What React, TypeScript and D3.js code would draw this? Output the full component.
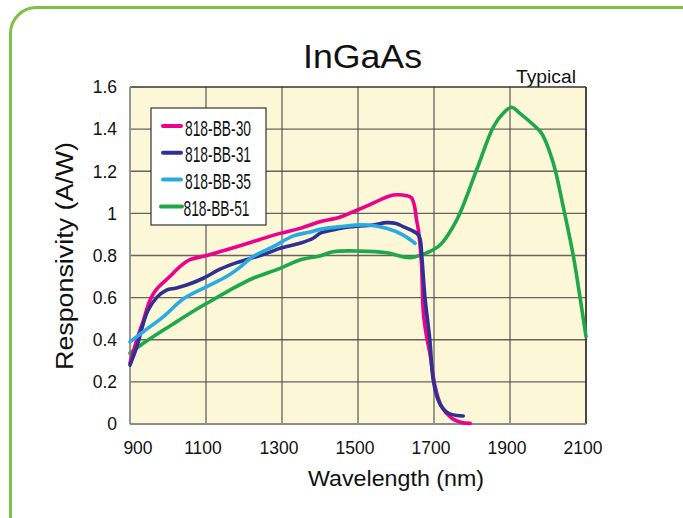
import React from "react";
import * as d3 from "d3";

const seriesNames = ["818-BB-30", "818-BB-31", "818-BB-35", "818-BB-51"];
const seriesColors = ["#ec008c", "#2e3192", "#29abe2", "#1fa84a"];

const bb30: [number, number][] = [
  [900, 0.29], [918, 0.4], [935, 0.49], [953, 0.59], [970, 0.64], [1005, 0.7], [1030, 0.745],
  [1058, 0.78], [1102, 0.8], [1140, 0.82], [1181, 0.842], [1240, 0.875], [1295, 0.905],
  [1350, 0.93], [1400, 0.96], [1450, 0.98], [1488, 1.008], [1530, 1.04], [1558, 1.064],
  [1593, 1.087], [1628, 1.084], [1640, 1.075], [1648, 1.04], [1654, 0.97], [1659, 0.92],
  [1667, 0.763], [1672, 0.53], [1680, 0.42], [1689, 0.337], [1703, 0.177], [1720, 0.082],
  [1747, 0.027], [1770, 0.008], [1795, 0.003],
];
const bb31: [number, number][] = [
  [900, 0.28], [918, 0.367], [935, 0.478], [948, 0.541], [970, 0.6], [996, 0.636], [1020, 0.645],
  [1049, 0.66], [1093, 0.692], [1137, 0.735], [1181, 0.766], [1224, 0.79], [1260, 0.81],
  [1295, 0.834], [1347, 0.858], [1382, 0.882], [1400, 0.905], [1430, 0.92], [1470, 0.934],
  [1540, 0.945], [1575, 0.956], [1600, 0.952], [1619, 0.937], [1640, 0.92], [1655, 0.905],
  [1663, 0.882], [1668, 0.795], [1676, 0.604], [1689, 0.4], [1698, 0.209], [1711, 0.114],
  [1725, 0.07], [1738, 0.051], [1760, 0.04], [1777, 0.038],
];
const bb35: [number, number][] = [
  [900, 0.39], [935, 0.438], [988, 0.51], [1040, 0.593], [1102, 0.652], [1154, 0.7], [1190, 0.745],
  [1224, 0.795], [1277, 0.842], [1330, 0.893], [1370, 0.91], [1400, 0.924], [1453, 0.937],
  [1523, 0.945], [1575, 0.929], [1619, 0.897], [1650, 0.858],
];
const bb51: [number, number][] = [
  [900, 0.336], [935, 0.383], [988, 0.446], [1023, 0.486], [1058, 0.526], [1102, 0.573],
  [1163, 0.636], [1224, 0.692], [1295, 0.739], [1347, 0.779], [1400, 0.798], [1435, 0.818],
  [1505, 0.821], [1575, 0.813], [1637, 0.79], [1681, 0.813], [1716, 0.85], [1760, 0.969],
  [1812, 1.206], [1856, 1.41], [1882, 1.475], [1904, 1.504], [1926, 1.475], [1957, 1.428],
  [1983, 1.38], [2014, 1.238], [2040, 1.032], [2067, 0.794], [2084, 0.604], [2100, 0.415],
];
const seriesData = [bb30, bb31, bb35, bb51];
const drawOrder = [3, 0, 1, 2];

const xTicks = [900, 1100, 1300, 1500, 1700, 1900, 2100];
const yTicks = [0, 0.2, 0.4, 0.6, 0.8, 1, 1.2, 1.4, 1.6];

const FONT = "'Liberation Sans', Arial, Helvetica, sans-serif";

export default function App() {
  const left = 130, right = 586, top = 87, bottom = 424;
  const x = d3.scaleLinear().domain([900, 2100]).range([left, right]);
  const y = d3.scaleLinear().domain([0, 1.6]).range([bottom, top]);
  const line = d3
    .line<[number, number]>()
    .x((d) => x(d[0]))
    .y((d) => y(d[1]))
    .curve(d3.curveCatmullRom.alpha(0.5));

  const legX = 151, legY = 108, legW = 115, legH = 117;

  return (
    <svg
      width={683}
      height={518}
      style={{ position: "absolute", left: 0, top: 0, background: "#fff" }}
      fontFamily={FONT}
    >
      <rect x={10.5} y={7.5} width={720} height={560} rx={26} fill="none" stroke="#7dc242" strokeWidth={3} />
      <text x={362.5} y={68} textAnchor="middle" fontSize={33} textLength={119} lengthAdjust="spacingAndGlyphs" fill="#111">
        InGaAs
      </text>
      <text x={546} y={82.5} textAnchor="middle" fontSize={18} textLength={60} lengthAdjust="spacingAndGlyphs" fill="#111">
        Typical
      </text>
      <rect x={left} y={top} width={right - left} height={bottom - top} fill="#fcf8d7" />
      {yTicks.slice(1, -1).map((v) => (
        <line key={"gy" + v} x1={left} x2={right} y1={y(v)} y2={y(v)} stroke="#4a4a4a" strokeOpacity={0.85} strokeWidth={1.3} />
      ))}
      {xTicks.slice(1, -1).map((v) => (
        <line key={"gx" + v} x1={x(v)} x2={x(v)} y1={top} y2={bottom} stroke="#4a4a4a" strokeOpacity={0.85} strokeWidth={1.3} />
      ))}
      <line x1={left} x2={right} y1={top} y2={top} stroke="#333" strokeWidth={1.6} />
      <line x1={right} x2={right} y1={top} y2={bottom} stroke="#333" strokeWidth={1.8} />
      <line x1={left} x2={left} y1={top} y2={bottom} stroke="#8c8c8c" strokeWidth={1.8} />
      <line x1={left} x2={right} y1={bottom} y2={bottom} stroke="#8c8c8c" strokeWidth={1.8} />

      {drawOrder.map((i) => (
        <path
          key={seriesNames[i]}
          d={line(seriesData[i]) || ""}
          fill="none"
          stroke={seriesColors[i]}
          strokeWidth={3.6}
          strokeLinejoin="round"
          strokeLinecap="round"
        />
      ))}

      <rect x={legX} y={legY} width={legW} height={legH} fill="#fff" stroke="#333" strokeWidth={1.2} />
      {seriesNames.map((n, i) => {
        const cy = 126 + i * 26.8;
        const green = i === 3;
        return (
          <g key={n}>
            <line
              x1={green ? 161 : 163}
              x2={green ? 182 : 181}
              y1={cy}
              y2={cy}
              stroke={seriesColors[i]}
              strokeWidth={4}
              strokeLinecap="round"
            />
            <text x={green ? 183.5 : 185} y={cy + 9.5} fontSize={22} textLength={66} lengthAdjust="spacingAndGlyphs" fill="#111">
              {n}
            </text>
          </g>
        );
      })}

      {yTicks.map((v) => (
        <text key={"ty" + v} x={117} y={y(v)} dy="0.36em" textAnchor="end" fontSize={17.5} fill="#111">
          {v === 0 ? "0" : v === 1 ? "1" : d3.format(".1f")(v)}
        </text>
      ))}
      {xTicks.map((v) => (
        <text key={"tx" + v} x={Math.max(x(v) - 3, 138)} y={454} textAnchor="middle" fontSize={17.5} fill="#111">
          {v}
        </text>
      ))}
      <text x={396} y={486} textAnchor="middle" fontSize={22} textLength={176} lengthAdjust="spacingAndGlyphs" fill="#111">
        Wavelength (nm)
      </text>
      <text
        transform={`translate(73, 256) rotate(-90)`}
        textAnchor="middle"
        fontSize={23}
        textLength={228}
        lengthAdjust="spacingAndGlyphs"
        fill="#111"
      >
        Responsivity (A/W)
      </text>
    </svg>
  );
}
